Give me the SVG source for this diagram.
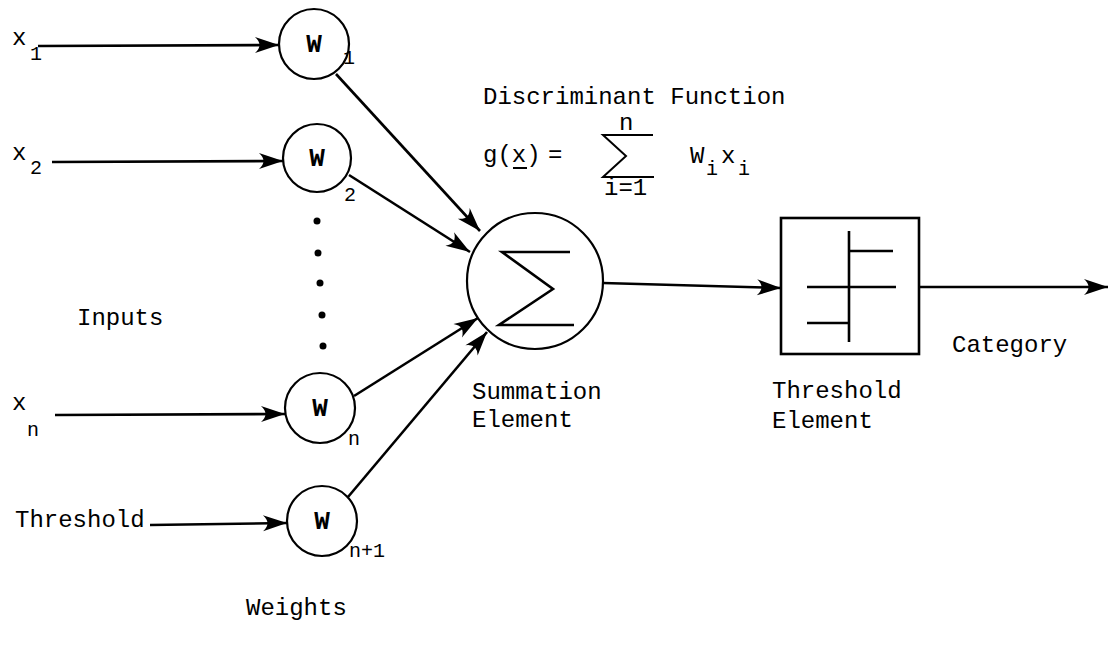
<svg xmlns="http://www.w3.org/2000/svg" width="1110" height="646" viewBox="0 0 1110 646">
<style>
.t{font-family:"Liberation Mono","DejaVu Sans Mono",monospace;font-size:24px;fill:#000}
.s{font-family:"Liberation Mono","DejaVu Sans Mono",monospace;font-size:20px;fill:#000}
.w{font-family:"Liberation Mono","DejaVu Sans Mono",monospace;font-size:26px;font-weight:bold;fill:#000}
.ln{stroke:#000;stroke-width:2.6;fill:none}
.nd{stroke:#000;stroke-width:2.2;fill:#fff}
</style>
<defs>
<marker id="ah" markerUnits="userSpaceOnUse" markerWidth="30" markerHeight="20" viewBox="-26 -10 30 20" refX="0" refY="0" orient="auto">
<path d="M0,0 L-24,-8 Q-15,0 -24,8 Z" fill="#000"/>
</marker>
</defs>
<rect width="1110" height="646" fill="#fff"/>

<g id="connectors">
<line class="ln" x1="38" y1="46" x2="279" y2="45" marker-end="url(#ah)"/>
<line class="ln" x1="52" y1="162" x2="283" y2="161" marker-end="url(#ah)"/>
<line class="ln" x1="55" y1="415" x2="285" y2="414" marker-end="url(#ah)"/>
<line class="ln" x1="150" y1="525" x2="287" y2="523" marker-end="url(#ah)"/>
<line class="ln" x1="336" y1="74" x2="480" y2="231" marker-end="url(#ah)"/>
<line class="ln" x1="349" y1="175" x2="470" y2="252" marker-end="url(#ah)"/>
<line class="ln" x1="354" y1="396" x2="478" y2="318" marker-end="url(#ah)"/>
<line class="ln" x1="348" y1="497" x2="487" y2="332" marker-end="url(#ah)"/>
<line class="ln" x1="603" y1="283" x2="781" y2="288" marker-end="url(#ah)"/>
<line class="ln" x1="919" y1="287" x2="1108" y2="287" marker-end="url(#ah)"/>
</g>

<g id="input-labels">
<text class="t" x="12" y="45">x</text><text class="s" x="30" y="60">1</text>
<text class="t" x="12" y="160">x</text><text class="s" x="30" y="174">2</text>
<text class="t" x="12" y="410">x</text><text class="s" x="27" y="436">n</text>
<text class="t" x="15" y="527">Threshold</text>
<text class="t" x="77" y="325">Inputs</text>
</g>

<g id="w1"><circle class="nd" cx="314" cy="44" r="35"/><text class="w" x="314" y="52" text-anchor="middle">W</text><text class="s" x="343" y="64">1</text></g>
<g id="w2"><circle class="nd" cx="317" cy="158" r="34"/><text class="w" x="317" y="166" text-anchor="middle">W</text><text class="s" x="344" y="201">2</text></g>
<g id="dots" fill="#000">
<circle cx="317" cy="221" r="3.5"/><circle cx="318" cy="253" r="3.5"/><circle cx="320" cy="283" r="3.5"/><circle cx="322" cy="315" r="3.5"/><circle cx="323" cy="346" r="3.5"/>
</g>
<g id="wn"><circle class="nd" cx="320" cy="408" r="35"/><text class="w" x="320" y="416" text-anchor="middle">W</text><text class="s" x="348" y="445">n</text></g>
<g id="wn1"><circle class="nd" cx="322" cy="521" r="35"/><text class="w" x="322" y="529" text-anchor="middle">W</text><text class="s" x="349" y="557">n+1</text></g>
<text class="t" x="246" y="615">Weights</text>

<g id="summation">
<circle class="nd" cx="535" cy="281" r="68"/>
<path class="ln" d="M570,252 L502,252 L553,289 L499,325 L574,325" stroke-width="2.2"/>
<text class="t" x="472" y="399">Summation</text>
<text class="t" x="472" y="427">Element</text>
</g>

<g id="formula">
<text class="t" x="483" y="104">Discriminant Function</text>
<text class="t" x="483" y="162">g(x)</text>
<line x1="513" y1="168" x2="527" y2="168" stroke="#000" stroke-width="2"/>
<text class="t" x="548" y="162">=</text>
<text class="t" x="619" y="130" font-size="23">n</text>
<path d="M653,135 L603,135 L626,156 L603,177 L654,177" fill="none" stroke="#000" stroke-width="2"/>
<text class="t" x="604" y="195">i=1</text>
<text class="t" x="690" y="163">W</text><text class="s" x="706" y="175">i</text>
<text class="t" x="721" y="163">x</text><text class="s" x="738" y="175">i</text>
</g>

<g id="threshold-element">
<rect x="781" y="218" width="138" height="136" fill="#fff" stroke="#000" stroke-width="2.6"/>
<path class="ln" d="M849,231 L849,342 M849,251 L893,251 M807,287 L896,287 M807,323 L849,323"/>
<text class="t" x="772" y="398">Threshold</text>
<text class="t" x="772" y="428">Element</text>
</g>

<text class="t" x="952" y="352">Category</text>
</svg>
